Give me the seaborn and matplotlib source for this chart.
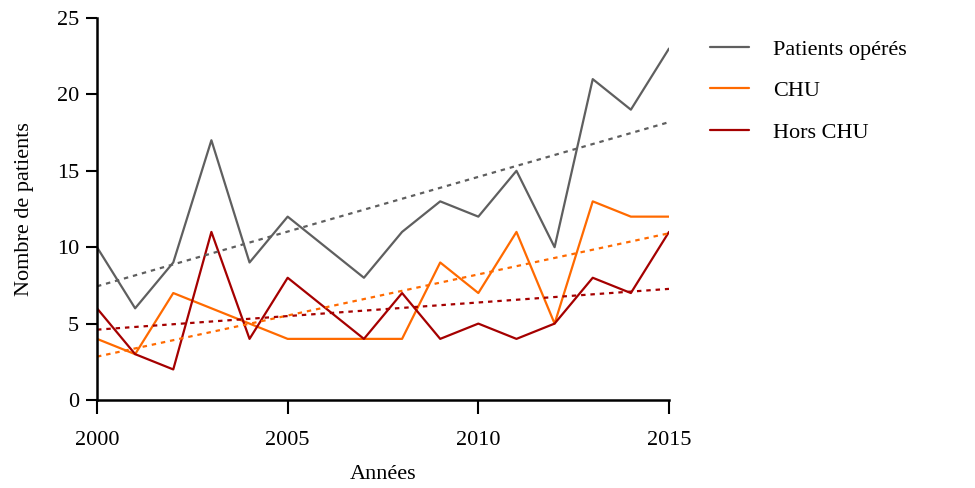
import numpy as np
import pandas as pd
import matplotlib
matplotlib.use("Agg")
import matplotlib.pyplot as plt
import seaborn as sns

years = list(range(2000, 2016))
patients_operes = [10, 6, 9, 17, 9, 12, 10, 8, 11, 13, 12, 15, 10, 21, 19, 23]
chu = [4, 3, 7, 6, 5, 4, 4, 4, 4, 9, 7, 11, 5, 13, 12, 12]
hors_chu = [6, 3, 2, 11, 4, 8, 6, 4, 7, 4, 5, 4, 5, 8, 7, 11]
series_names = ["Patients opérés", "CHU", "Hors CHU"]
colors = ["#5f5f5f", "#ff6a00", "#a50000"]

df = pd.DataFrame({
    "Année": years * 3,
    "Nombre": patients_operes + chu + hors_chu,
    "Série": [series_names[0]] * 16 + [series_names[1]] * 16 + [series_names[2]] * 16,
})

sns.set_style("white")
plt.rcParams["font.family"] = ["Liberation Serif", "DejaVu Serif"]
plt.rcParams["text.color"] = "black"
plt.rcParams["axes.labelcolor"] = "black"
plt.rcParams["xtick.color"] = "black"
plt.rcParams["ytick.color"] = "black"

fig = plt.figure(figsize=(9.75, 4.88), dpi=100)
ax = fig.add_axes([97 / 975, 88 / 488, 572 / 975, 382 / 488])

sns.lineplot(data=df, x="Année", y="Nombre", hue="Série", hue_order=series_names,
             palette=colors, linewidth=1.6, ax=ax)

for name, col in zip(series_names, colors):
    sub = df[df["Série"] == name]
    sns.regplot(data=sub, x="Année", y="Nombre", scatter=False, ci=None, ax=ax,
                line_kws=dict(color=col, linestyle=(0, (2, 2.2)), linewidth=1.6))

ax.set_xlim(2000, 2015)
ax.set_ylim(0, 25)
ax.set_xticks([2000, 2005, 2010, 2015])
ax.set_yticks([0, 5, 10, 15, 20, 25])
ax.tick_params(axis="both", which="major", bottom=True, left=True, direction="out",
               length=8, width=1.5, colors="black", labelsize=16, pad=5)
ax.tick_params(axis="x", length=10, pad=12)
for s in ["top", "right"]:
    ax.spines[s].set_visible(False)
for s in ["left", "bottom"]:
    ax.spines[s].set_color("black")
    ax.spines[s].set_linewidth(1.8)

ax.set_xlabel("Années", fontsize=16, labelpad=11, color="black")
ax.set_ylabel("Nombre de patients", fontsize=16, labelpad=16, color="black")

leg = ax.legend(loc="upper left", bbox_to_anchor=(690 / 975, 1 - 19 / 488),
                bbox_transform=fig.transFigure, frameon=False, fontsize=16,
                handlelength=1.75, handletextpad=1.1, labelspacing=0.95)
for line in leg.get_lines():
    line.set_linewidth(1.6)
for t in leg.get_texts():
    t.set_color("black")

fig.savefig("out.png", dpi=100)
